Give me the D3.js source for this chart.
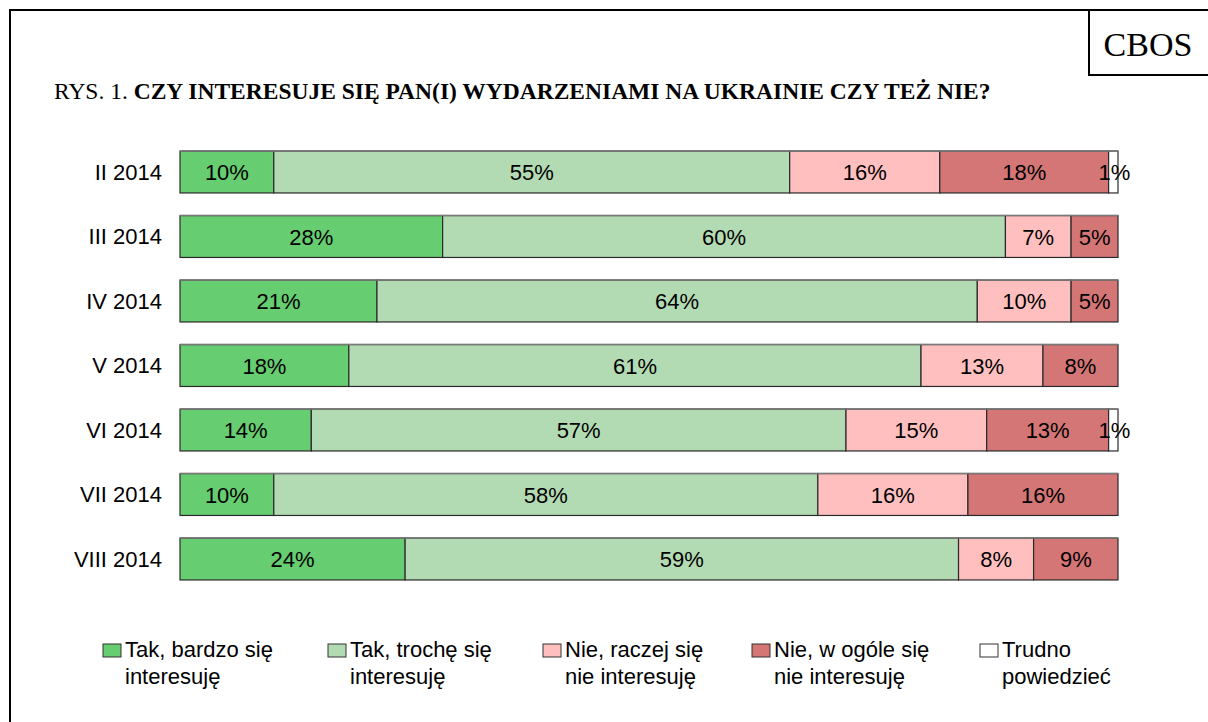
<!DOCTYPE html>
<html><head><meta charset="utf-8">
<script src="https://cdn.jsdelivr.net/npm/d3@7"></script>
<style>body{margin:0;background:#fff}svg{display:block}</style>
</head><body>
<svg id="c" width="1208" height="722"></svg>
<script>
const categories = ["II 2014","III 2014","IV 2014","V 2014","VI 2014","VII 2014","VIII 2014"];
const legendLines = [["Tak, bardzo się","interesuję"],["Tak, trochę się","interesuję"],["Nie, raczej się","nie interesuję"],["Nie, w ogóle się","nie interesuję"],["Trudno","powiedzieć"]];
const bardzo  = [10,28,21,18,14,10,24];
const troche  = [55,60,64,61,57,58,59];
const raczej  = [16,7,10,13,15,16,8];
const wogole  = [18,5,5,8,13,16,9];
const trudno  = [1,0,0,0,1,0,0];
const colors = ["#66CD70","#B3DBB3","#FFBFBF","#D47576","#FFFFFF"];

const svg = d3.select("#c");
const series = [bardzo, troche, raczej, wogole, trudno];

// frame
svg.append("path").attr("d","M10,722 L10,10 L1208,10").attr("fill","none").attr("stroke","#000").attr("stroke-width",2);
svg.append("path").attr("d","M1208,75 L1089,75 L1089,10").attr("fill","none").attr("stroke","#000").attr("stroke-width",2);
svg.append("text").attr("x",1148).attr("y",56).attr("text-anchor","middle")
  .attr("font-family","Liberation Serif, Times New Roman, serif").attr("font-size",34).text("CBOS");

const title = svg.append("text").attr("x",54).attr("y",99)
  .attr("font-family","Liberation Serif, Times New Roman, serif").attr("font-size",23.5);
title.append("tspan").text("RYS. 1. ");
title.append("tspan").attr("font-weight","bold").text("CZY INTERESUJE SIĘ PAN(I) WYDARZENIAMI NA UKRAINIE CZY TEŻ NIE?");

const x = d3.scaleLinear().domain([0,100]).range([180,1118]);
const y = d3.scaleBand().domain(categories).range([139.75,591.25]).paddingInner(0.35).paddingOuter(0.175);

const font = "Liberation Sans, Arial, sans-serif";
const stackData = categories.map((c,i)=>{const o={cat:c}; series.forEach((s,k)=>o["s"+k]=s[i]); return o;});
const stack = d3.stack().keys(series.map((s,k)=>"s"+k))(stackData);

const g = svg.append("g");
stack.forEach((layer,k)=>{
  layer.forEach((d,i)=>{
    const v = d[1]-d[0];
    if (v<=0) return;
    g.append("rect").attr("x",x(d[0])).attr("y",y(categories[i])).attr("width",x(d[1])-x(d[0])).attr("height",y.bandwidth())
      .attr("fill",colors[k]).attr("stroke","#2a2a2a").attr("stroke-width",1.2);
  });
});
// lighter top edge as in reference
categories.forEach(c=>{
  g.append("line").attr("x1",x(0)).attr("x2",x(100)).attr("y1",y(c)).attr("y2",y(c))
    .attr("stroke","#7a7a7a").attr("stroke-width",1.5);
});
stack.forEach((layer,k)=>{
  layer.forEach((d,i)=>{
    const v = d[1]-d[0];
    if (v<=0) return;
    g.append("text").attr("x",(x(d[0])+x(d[1]))/2 + (v<2?1:0)).attr("y",y(categories[i])+y.bandwidth()/2+8)
      .attr("text-anchor","middle").attr("font-family",font).attr("font-size",22).attr("fill","#000").text(v+"%");
  });
});

// category axis
const ax = svg.append("g").attr("transform","translate(180,0)").call(d3.axisLeft(y).tickSize(0).tickPadding(18));
ax.select(".domain").remove();
ax.selectAll("text").attr("font-family",font).attr("font-size",22).attr("fill","#000").attr("dy","0.36em");

// legend
const lx = [125,350,565,774,1002];
legendLines.forEach((lines,k)=>{
  const lg = svg.append("g").attr("transform",`translate(${lx[k]},0)`);
  lg.append("rect").attr("x",-22).attr("y",644).attr("width",18).attr("height",13).attr("fill",colors[k]).attr("stroke","#333").attr("stroke-width",1);
  lines.forEach((t,j)=>{
    lg.append("text").attr("x",0).attr("y",657+j*27).attr("font-family",font).attr("font-size",22).attr("fill","#000").text(t);
  });
});
</script>
</body></html>
